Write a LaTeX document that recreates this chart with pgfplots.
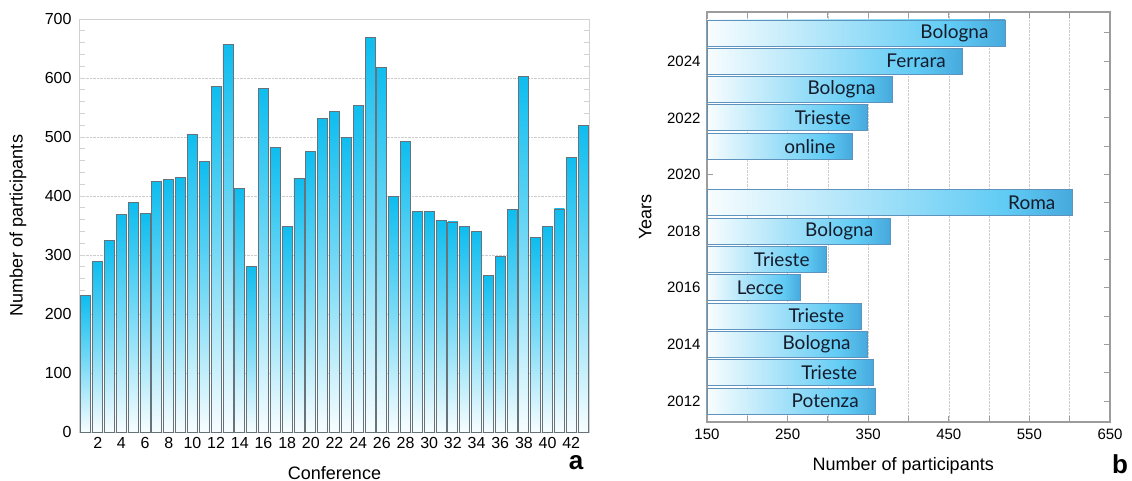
\documentclass[border=0pt]{standalone}
\usepackage{pgfplots}
\pgfplotsset{compat=1.18}
\usepackage{pgfplotstable}
\usepackage{fontspec}
\setmainfont{Liberation Sans}
\newfontfamily\labfont{Lato}

\definecolor{cyanTop}{HTML}{0EBDEF}
\definecolor{skyR}{HTML}{60CBF4}
\definecolor{blueR}{HTML}{46A9DD}
\definecolor{frameL}{HTML}{D2D2D2}
\definecolor{frameR}{HTML}{9C9C9C}
\definecolor{barEdgeL}{HTML}{66737A}
\definecolor{barEdgeR}{HTML}{5D93BC}
\definecolor{txtR}{HTML}{141C2C}

\pgfdeclareverticalshading{vbar}{100bp}{color(0bp)=(white); color(25bp)=(white!97!cyanTop); color(50bp)=(white!45!cyanTop); color(75bp)=(cyanTop); color(100bp)=(cyanTop)}
\pgfdeclarehorizontalshading{hbar}{100bp}{color(0bp)=(white); color(25bp)=(white!96!skyR); color(66bp)=(skyR); color(75bp)=(blueR); color(100bp)=(blueR)}

\pgfplotstableread{
conf v
1 231
2 289
3 324
4 369
5 389
6 370
7 425
8 428
9 431
10 505
11 459
12 586
13 657
14 413
15 280
16 583
17 482
18 348
19 430
20 476
21 532
22 544
23 499
24 554
25 669
26 618
27 400
28 493
29 374
30 374
31 358
32 356
33 348
34 340
35 265
36 298
37 377
38 602
39 329
40 348
41 378
42 466
43 519
}\conftable

\pgfplotstableread{
year v city
2012 359 Potenza
2013 357 Trieste
2014 349 Bologna
2015 341 Trieste
2016 266 Lecce
2017 298 Trieste
2018 377 Bologna
2019 603 Roma
2021 330 online
2022 349 Trieste
2023 380 Bologna
2024 467 Ferrara
2025 520 Bologna
}\yeartable

\begin{document}
\begin{tikzpicture}[x=1pt,y=1pt]
\useasboundingbox (0,0) rectangle (1132,-481);

\begin{axis}[
  at={(80pt,-432pt)}, anchor=south west,
  scale only axis, width=509pt, height=413pt,
  xmin=0.5, xmax=43.5, ymin=0, ymax=700,
  xtick={2,4,...,42}, ytick={0,100,...,700},
  minor y tick num=4,
  ymajorgrids,
  major grid style={densely dotted, gray!40, line width=0.6pt},
  axis line style={frameL, line width=1pt},
  tick align=inside,
  y tick style={frameL, line width=0.8pt},
  major tick length=5pt, minor tick length=5pt,
  x tick style={draw=none},
  ticklabel style={font=\fontsize{16}{16}\selectfont},
  /pgf/number format/assume math mode=true,
  yticklabel style={xshift=-5pt},
  xticklabel style={yshift=-2pt},
  xlabel={Conference}, ylabel={Number of participants},
  label style={font=\fontsize{18}{18}\selectfont},
  xlabel style={at={(axis description cs:0.5,-0.099)}, anchor=center},
  ylabel style={at={(axis description cs:-0.122,0.5)}, anchor=center},
]
\pgfplotsinvokeforeach{1,...,43}{
  \addplot[ybar, bar width=10pt, bar shift=0pt, shade, shading=vbar, draw=barEdgeL, line width=0.9pt,
    restrict x to domain=#1:#1]
    table[x=conf, y=v] {\conftable};
}
\end{axis}

\node[font=\bfseries\fontsize{26}{26}\selectfont] at (576,-463) {a};

\begin{axis}[
  at={(707pt,-422pt)}, anchor=south west,
  scale only axis, width=403pt, height=410pt,
  xmin=0, xmax=500, ymin=2011.26, ymax=2025.74,
  xtick={0,100,...,500}, xticklabels={150,250,350,450,550,650},
  minor xtick={50,150,...,450},
  xmajorgrids, xminorgrids,
  major grid style={densely dotted, gray!40, line width=0.6pt},
  minor grid style={densely dotted, gray!40, line width=0.6pt},
  ytick={2012,2014,...,2024}, minor ytick={2013,2015,...,2025},
  yticklabel style={/pgf/number format/1000 sep={}, xshift=-3pt},
  xticklabel style={yshift=-3pt},
  axis line style={frameR, line width=1.3pt},
  tick style={frameR, line width=1pt},
  tick align=inside,
  major tick length=6pt, minor tick length=6pt,
  ticklabel style={font=\fontsize{15}{15}\selectfont},
  /pgf/number format/assume math mode=true,
  xlabel={Number of participants}, ylabel={Years},
  label style={font=\fontsize{18}{18}\selectfont},
  xlabel style={at={(axis description cs:0.487,-0.107)}, anchor=center},
  ylabel style={at={(axis description cs:-0.153,0.5)}, anchor=center},
  point meta=explicit symbolic,
]
\pgfplotsinvokeforeach{2012,2013,2014,2015,2016,2017,2018,2019,2021,2022,2023,2024,2025}{
  \addplot[xbar, bar width=26pt, bar shift=0pt, shade, shading=hbar, draw=barEdgeR, line width=0.9pt,
    restrict y to domain=#1:#1,
    nodes near coords,
    every node near coord/.append style={anchor=east, xshift=-13pt, text=txtR, font=\labfont\fontsize{19}{19}\selectfont}]
    table[x expr=\thisrow{v}-150, y=year, meta=city] {\yeartable};
}
\end{axis}

\node[font=\bfseries\fontsize{26}{26}\selectfont] at (1120,-464) {b};
\end{tikzpicture}
\end{document}
